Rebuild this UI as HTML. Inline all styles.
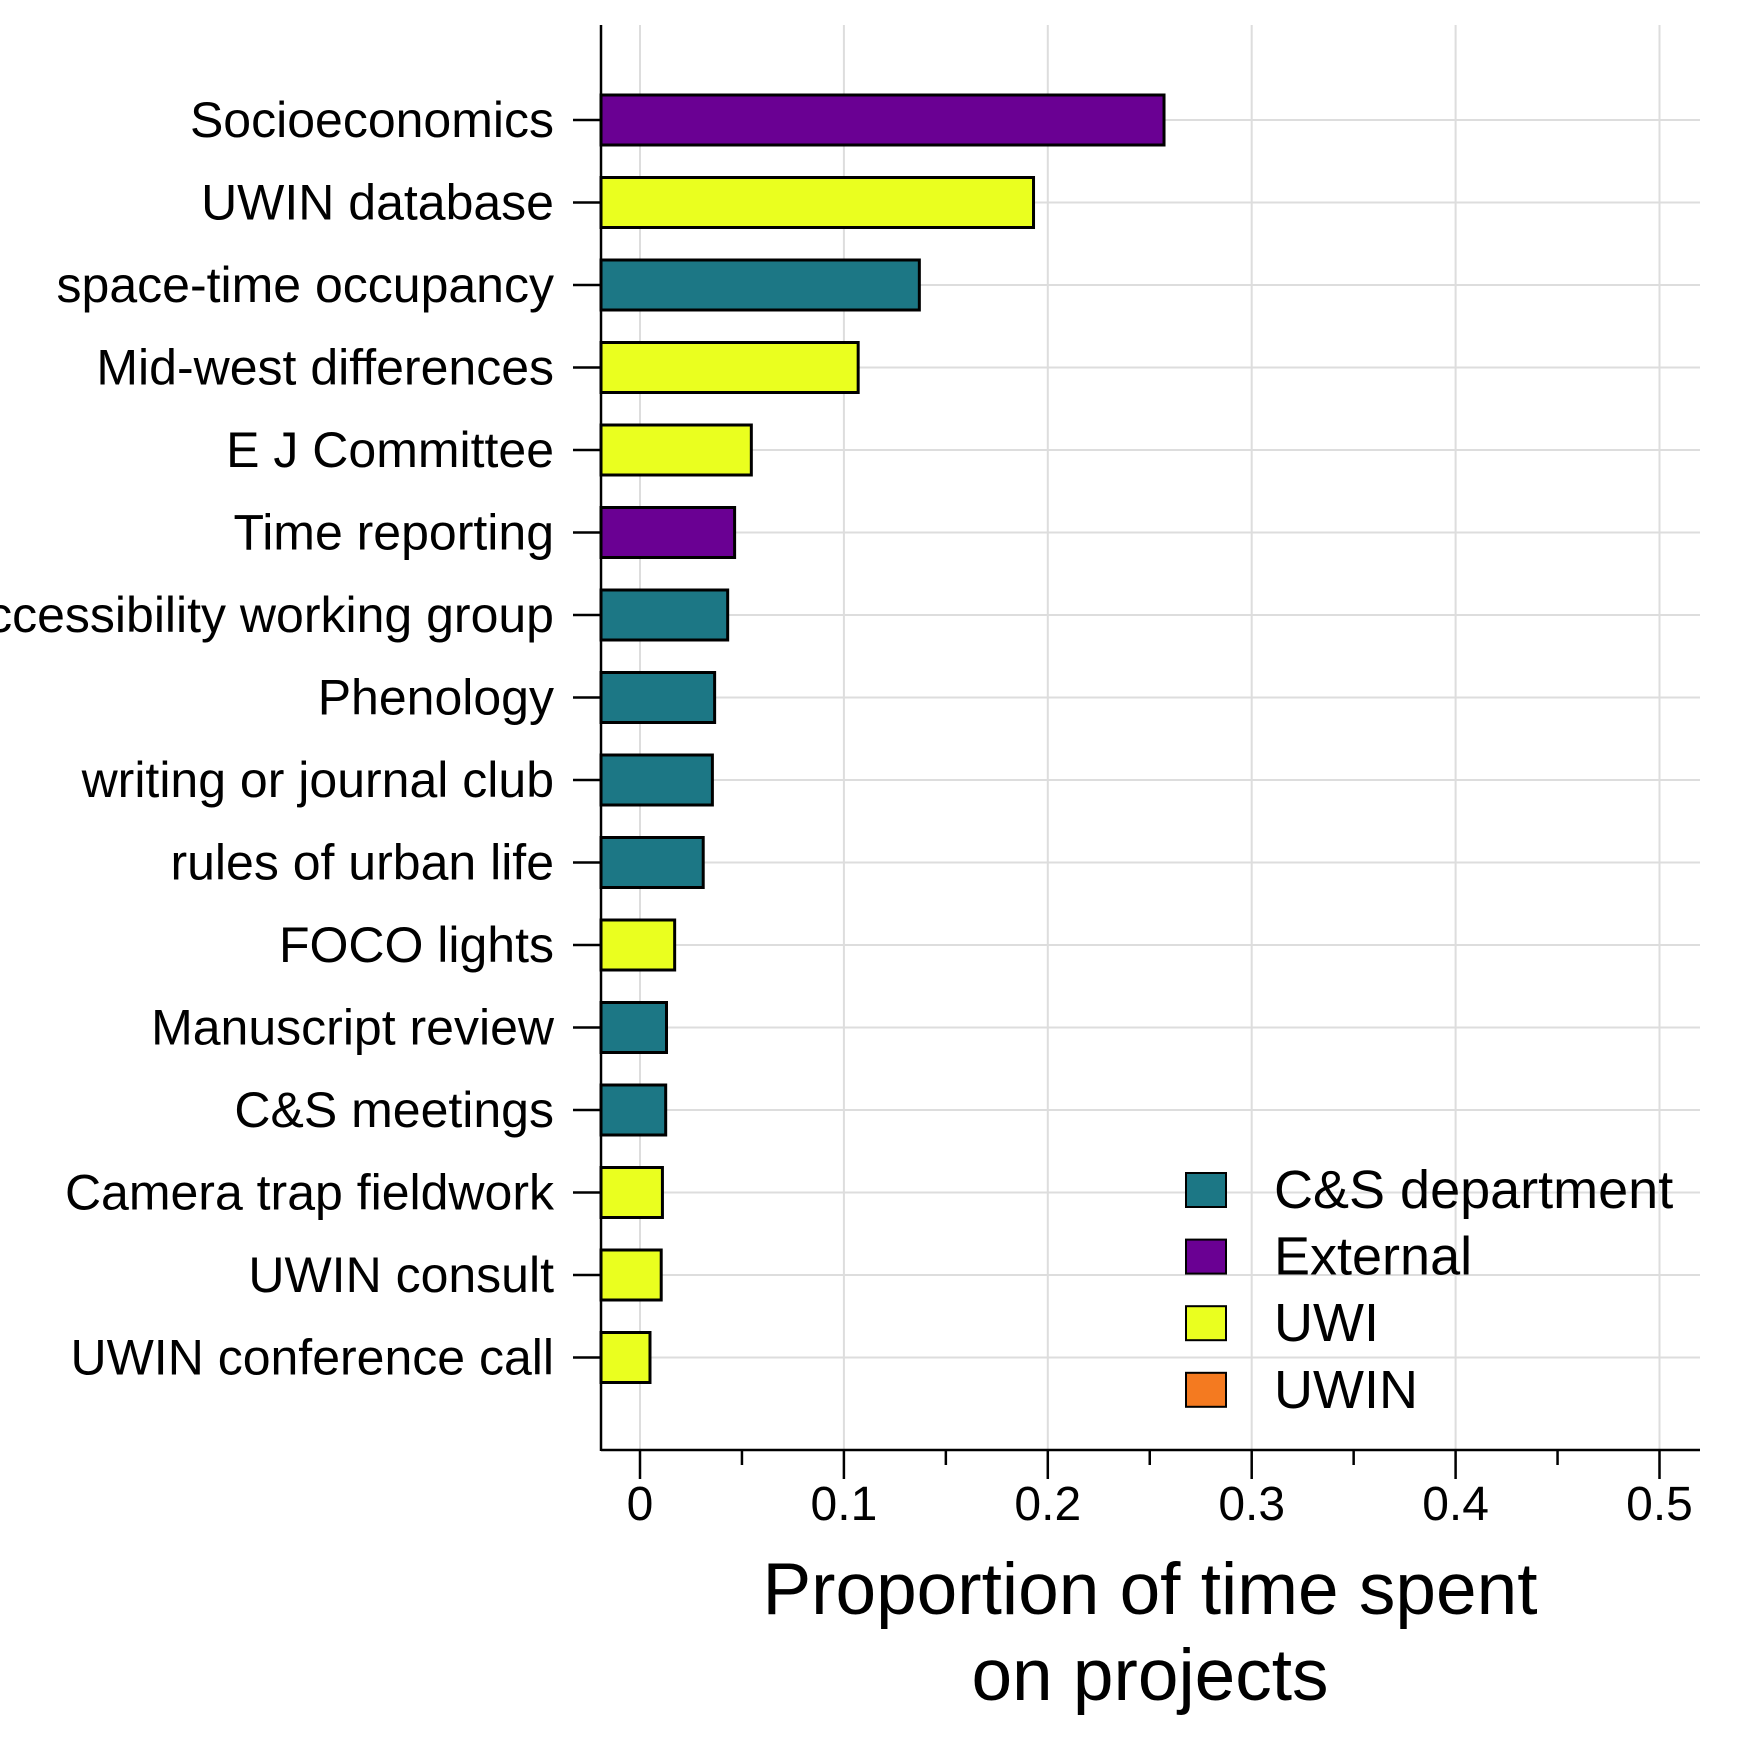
<!DOCTYPE html>
<html><head><meta charset="utf-8"><style>
html,body{margin:0;padding:0;background:#fff;}
svg{display:block;font-family:"Liberation Sans",Arial,sans-serif;}
</style></head><body>
<svg id="chart" width="1750" height="1750" viewBox="0 0 1750 1750"></svg>
<script>
const categories=["Socioeconomics","UWIN database","space-time occupancy","Mid-west differences","E J Committee","Time reporting","Accessibility working group","Phenology","writing or journal club","rules of urban life","FOCO lights","Manuscript review","C&S meetings","Camera trap fieldwork","UWIN consult","UWIN conference call"];
const values=[0.257,0.193,0.137,0.107,0.0546,0.0464,0.043,0.0366,0.0355,0.031,0.017,0.013,0.0126,0.011,0.0104,0.0049];
const groups=["External","UWI","C&S department","UWI","UWI","External","C&S department","C&S department","C&S department","C&S department","UWI","C&S department","C&S department","UWI","UWI","UWI"];
const legendLabels=["C&S department","External","UWI","UWIN"];
const legendColors=["#1c7785","#6a0093","#eaff1f","#f47a20"];
const xTicks=[0,0.1,0.2,0.3,0.4,0.5];
const xTickLabels=["0","0.1","0.2","0.3","0.4","0.5"];
const minorTicks=[0.05,0.15,0.25,0.35,0.45];

const NS="http://www.w3.org/2000/svg";
const svg=document.getElementById('chart');
const x0=640, xs=2039;
const X=v=>x0+v*xs;
const yTop=120, yStep=82.5;
const Y=i=>yTop+i*yStep;
const axL=601, axR=1700, axB=1450, axT=25, barH=50;
function mk(t,a,parent){const e=document.createElementNS(NS,t);for(const k in a)e.setAttribute(k,a[k]);(parent||svg).appendChild(e);return e;}
const colorOf=g=>legendColors[legendLabels.indexOf(g)];

xTicks.forEach((t,i)=>{
  const g=mk('line',{x1:X(t),x2:X(t),y1:axT,y2:axB,stroke:'#dddddd','stroke-width':2});
  
  
});
categories.forEach((c,i)=>{
  const g=mk('line',{x1:axL,x2:axR,y1:Y(i),y2:Y(i),stroke:'#dddddd','stroke-width':2});
  
  
});
categories.forEach((c,i)=>{
  const r=mk('rect',{x:axL,y:Y(i)-barH/2,width:X(values[i])-axL,height:barH,fill:colorOf(groups[i]),stroke:'#000','stroke-width':3});
  
  
  const tk=mk('line',{x1:573,x2:axL,y1:Y(i),y2:Y(i),stroke:'#000','stroke-width':2.5});
  
  
  const t=mk('text',{x:554,y:Y(i)+17,'text-anchor':'end','font-size':50,fill:'#000'});
  t.textContent=c;
  
  
});
const ay=mk('line',{x1:axL,x2:axL,y1:axT,y2:axB+1,stroke:'#000','stroke-width':2.5});


const ax=mk('line',{x1:axL,x2:axR,y1:axB,y2:axB,stroke:'#000','stroke-width':2.5});


xTicks.forEach((t,i)=>{
  const l=mk('line',{x1:X(t),x2:X(t),y1:axB,y2:axB+29,stroke:'#000','stroke-width':2.5});
  
  
  const tx=mk('text',{x:X(t),y:1520,'text-anchor':'middle','font-size':48,fill:'#000'});
  tx.textContent=xTickLabels[i];
  
  
});
minorTicks.forEach(t=>{
  const l=mk('line',{x1:X(t),x2:X(t),y1:axB,y2:axB+15,stroke:'#000','stroke-width':2.5});
  
  
});
const tt=mk('text',{x:1150,y:1614,'text-anchor':'middle','font-size':73,fill:'#000'});
tt.textContent='Proportion of time spent';


const tt2=mk('text',{x:1150,y:1700,'text-anchor':'middle','font-size':73,fill:'#000'});
tt2.textContent='on projects';


legendLabels.forEach((l,i)=>{
  const cy=1190+i*66.6;
  const r=mk('rect',{x:1186,y:cy-17,width:40,height:34,fill:legendColors[i],stroke:'#000','stroke-width':2});
  
  
  const t=mk('text',{x:1274,y:cy+18,'font-size':54,fill:'#000'});
  t.textContent=l;
  
  
});
</script>
</body></html>
